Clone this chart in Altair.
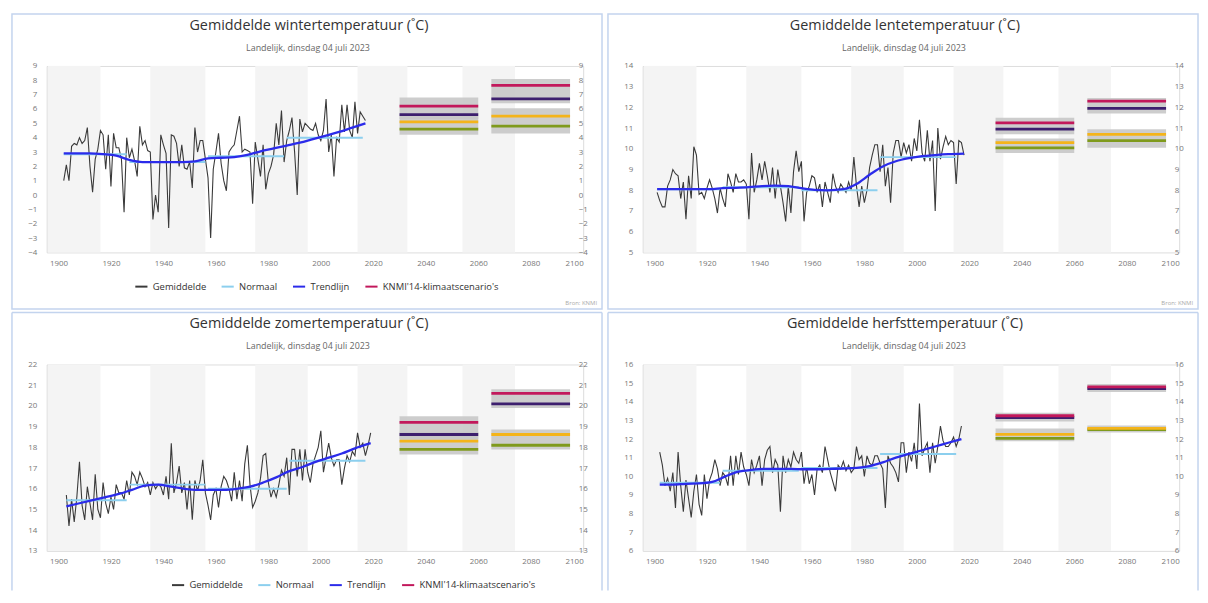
import altair as alt
import pandas as pd

W, H = 541, 188
X_DOMAIN = [1895.5, 2100]
X_TICKS = [1900, 1920, 1940, 1960, 1980, 2000, 2020, 2040, 2060, 2080, 2100]

BAND_START = [1896, 1935, 1975, 2014, 2054]
BAND_END = [1916, 1956, 1995, 2033, 2074]

SERIES = ["Gemiddelde", "Normaal", "Trendlijn", "KNMI'14-klimaatscenario's"]
SERIES_COLORS = ["#3a3a3a", "#8ccfee", "#2b2bea", "#c2185b"]

SCEN = ["GL", "GH", "WL", "WH"]
SCEN_COLORS = ["#7f9a1c", "#f4b41a", "#3d1f6e", "#c2185b"]

PERIOD_START = [2030, 2065]
PERIOD_END = [2060, 2095]

SUBTITLE = "Landelijk, dinsdag 04 juli 2023"

# ---------------- winter ----------------
WINTER_START = 1902
WINTER_OBS = [
    1.0, 2.1, 1.0, 3.4, 3.6, 3.5, 4.0, 3.6, 3.8, 4.7,
    2.0, 0.2, 2.5, 3.2, 4.5, 4.2, 1.8, 4.2, 0.6, 4.3,
    3.3, 3.3, 2.5, -1.2, 4.0, 2.6, 3.2, 2.4, 1.3, 4.8,
    3.5, 3.8, 3.1, 3.0, -1.7, 0.0, -1.2, 4.2, 3.5, 2.9,
    -2.3, 4.2, 4.1, 3.6, 2.0, 3.5, 1.9, 1.8, 2.3, 0.5,
    4.7, 3.0, 3.8, 3.8, 2.5, 1.2, -3.0, 1.8, 3.0, 4.3,
    2.2, 1.0, 0.3, 3.0, 3.3, 3.5, 4.5, 5.5, 3.0, 3.2,
    3.1, 3.0, -0.6, 3.7, 2.5, 1.3, 3.5, 0.4, 1.5, 2.0,
    2.8, 5.0, 3.5, 5.9, 2.3, 3.8, 4.5, 5.4, 3.0, 0.0,
    5.3, 4.4, 5.0, 4.8, 4.6, 4.5, 5.0, 4.2, 3.8, 4.5,
    6.7, 3.0, 4.2, 1.3, 4.0, 3.7, 6.3, 4.4, 6.3, 4.5,
    4.0, 6.5, 4.3, 5.8, 5.5, 5.2,
]
WINTER_TREND_YEARS = [1902, 1907, 1912, 1917, 1922, 1927, 1932, 1937, 1942, 1947, 1952, 1957,
                      1962, 1967, 1972, 1977, 1982, 1987, 1992, 1997, 2002, 2007, 2012, 2017]
WINTER_TREND = [2.9, 2.9, 2.9, 2.85, 2.75, 2.45, 2.3, 2.3, 2.3, 2.3, 2.35, 2.55,
                2.6, 2.65, 2.8, 3.05, 3.25, 3.45, 3.65, 3.9, 4.15, 4.4, 4.7, 5.0]
WINTER_NORM_START = [1902, 1927, 1957, 1987]
WINTER_NORM_END = [1926, 1956, 1986, 2016]
WINTER_NORM = [2.85, 2.3, 2.7, 4.0]
WINTER_G_LO, WINTER_G_HI = [4.2, 4.3], [5.5, 6.05]
WINTER_W_LO, WINTER_W_HI = [5.3, 6.4], [6.8, 8.1]
WINTER_GL, WINTER_GH = [4.6, 4.8], [5.1, 5.5]
WINTER_WL, WINTER_WH = [5.6, 6.7], [6.2, 7.65]

# ---------------- spring ----------------
SPRING_START = 1901
SPRING_OBS = [
    7.9, 7.5, 7.2, 7.2, 8.2, 8.5, 9.0, 8.8, 8.7, 7.6,
    8.4, 6.6, 8.7, 7.6, 10.1, 9.7, 7.8, 7.9, 7.6, 8.1,
    8.5, 8.1, 7.6, 6.9, 8.1, 7.6, 7.2, 8.8, 8.4, 7.9,
    8.8, 8.4, 8.4, 8.5, 8.3, 6.6, 9.8, 7.9, 8.5, 9.3,
    8.5, 9.4, 8.7, 7.9, 9.1, 7.6, 9.0, 8.2, 7.4, 6.5,
    8.2, 6.9, 8.9, 9.9, 8.9, 9.4, 6.5, 7.9, 8.2, 8.7,
    8.6, 7.9, 8.3, 7.2, 8.4, 7.9, 7.4, 8.8, 8.2, 7.9,
    8.3, 8.1, 7.9, 8.4, 8.0, 9.6, 8.2, 7.2, 8.2, 7.4,
    8.0, 9.1, 9.7, 10.2, 10.2, 8.9, 10.2, 8.2, 9.1, 7.4,
    9.8, 10.4, 10.4, 9.6, 10.3, 9.8, 10.2, 9.4, 10.5, 9.9,
    11.4, 9.8, 9.4, 10.9, 9.4, 10.4, 7.0, 11.0, 9.5, 10.1,
    10.6, 10.2, 10.4, 10.3, 8.3, 10.4, 10.3, 9.7,
]
SPRING_TREND_YEARS = [1901, 1906, 1911, 1916, 1921, 1926, 1931, 1936, 1941, 1946, 1951, 1956,
                      1961, 1966, 1972, 1977, 1982, 1987, 1992, 1997, 2002, 2007, 2012, 2018]
SPRING_TREND = [8.05, 8.05, 8.05, 8.05, 8.05, 8.1, 8.12, 8.15, 8.2, 8.22, 8.2, 8.1,
                8.02, 8.0, 8.05, 8.3, 8.75, 9.15, 9.4, 9.55, 9.65, 9.7, 9.74, 9.77]
SPRING_NORM_START = [1901, 1926, 1956, 1986]
SPRING_NORM_END = [1925, 1955, 1985, 2015]
SPRING_NORM = [8.05, 8.15, 8.0, 9.6]
SPRING_G_LO, SPRING_G_HI = [9.8, 10.05], [10.5, 10.95]
SPRING_W_LO, SPRING_W_HI = [10.7, 11.7], [11.5, 12.45]
SPRING_GL, SPRING_GH = [10.05, 10.4], [10.3, 10.7]
SPRING_WL, SPRING_WH = [10.95, 11.95], [11.25, 12.3]

# ---------------- summer ----------------
SUMMER_START = 1903
SUMMER_OBS = [
    15.7, 14.2, 15.5, 14.4, 15.6, 17.3, 15.2, 14.5, 16.1, 15.3,
    14.5, 16.7, 15.0, 14.6, 16.3, 15.3, 14.8, 15.6, 15.0, 16.2,
    15.8, 15.8, 15.5, 16.4, 15.7, 16.8, 16.6, 16.2, 16.8, 16.5,
    16.1, 16.3, 15.7, 16.3, 16.0, 16.2, 16.1, 15.7, 16.6, 15.5,
    18.2, 15.8, 16.3, 17.1, 15.8, 16.3, 15.0, 16.4, 14.5, 16.4,
    15.9, 16.4, 17.4, 15.8, 15.2, 14.5, 15.7, 16.0, 15.1, 16.1,
    16.6, 16.4, 16.0, 15.4, 16.8, 15.5, 16.4, 15.4, 17.2, 18.1,
    16.2, 15.1, 15.4, 15.8, 16.5, 17.6, 17.7, 16.3, 15.6, 16.0,
    15.6, 16.2, 16.9, 16.6, 17.5, 15.7, 17.9, 17.9, 16.6, 17.9,
    16.4, 17.9, 16.8, 16.3, 17.2, 17.6, 18.0, 18.8, 16.8, 17.5,
    18.2, 17.5, 17.1, 17.4, 17.4, 16.2, 17.0, 17.6, 17.3, 17.8,
    17.6, 18.7, 18.0, 18.2, 17.6, 18.1, 18.7,
]
SUMMER_TREND_YEARS = [1903, 1908, 1913, 1918, 1923, 1928, 1933, 1938, 1943, 1948, 1953, 1958,
                      1963, 1968, 1973, 1978, 1983, 1988, 1993, 1998, 2003, 2008, 2013, 2019]
SUMMER_TREND = [15.15, 15.3, 15.45, 15.6, 15.75, 15.95, 16.15, 16.2, 16.1, 16.0, 15.95, 15.95,
                15.95, 16.0, 16.1, 16.3, 16.55, 16.85, 17.05, 17.3, 17.5, 17.7, 17.95, 18.2]
SUMMER_NORM_START = [1903, 1927, 1957, 1988]
SUMMER_NORM_END = [1926, 1956, 1987, 2017]
SUMMER_NORM = [15.45, 16.2, 16.0, 17.35]
SUMMER_G_LO, SUMMER_G_HI = [17.65, 17.9], [18.75, 18.86]
SUMMER_W_LO, SUMMER_W_HI = [18.4, 19.9], [19.5, 20.8]
SUMMER_GL, SUMMER_GH = [17.9, 18.1], [18.3, 18.62]
SUMMER_WL, SUMMER_WH = [18.62, 20.1], [19.2, 20.6]

# ---------------- autumn ----------------
AUTUMN_START = 1902
AUTUMN_OBS = [
    11.3, 10.6, 9.5, 9.9, 9.2, 10.2, 8.3, 11.3, 9.5, 8.1,
    9.8, 8.8, 7.8, 9.2, 10.1, 8.5, 7.9, 10.1, 8.8, 9.8,
    10.2, 10.9, 10.4, 9.5, 10.2, 10.0, 9.5, 11.1, 9.5, 11.1,
    10.1, 11.3, 10.5, 10.1, 9.5, 10.9, 10.2, 10.6, 11.1, 9.5,
    10.9, 11.4, 11.6, 10.2, 10.9, 10.6, 8.1, 11.1, 10.2, 10.9,
    10.5, 11.3, 10.9, 10.7, 11.3, 9.6, 10.5, 9.6, 10.1, 9.0,
    10.4, 10.6, 10.2, 11.6, 10.9, 10.2, 9.7, 9.2, 10.6, 10.4,
    10.8, 10.3, 10.6, 10.2, 10.4, 11.6, 10.9, 11.1, 10.0, 11.1,
    10.7, 10.6, 11.1, 11.1, 10.7, 10.4, 8.3, 11.1, 10.7, 10.5,
    10.2, 9.7, 11.8, 11.8, 10.2, 11.3, 10.8, 11.8, 10.4, 13.9,
    11.1, 11.5, 11.8, 10.2, 11.8, 10.7, 11.6, 12.7, 11.9, 11.6,
    11.6, 11.8, 12.1, 11.6, 12.0, 12.7,
]
AUTUMN_TREND_YEARS = [1902, 1907, 1912, 1917, 1922, 1927, 1932, 1937, 1942, 1947, 1952, 1957,
                      1962, 1967, 1972, 1977, 1982, 1987, 1992, 1997, 2002, 2007, 2012, 2017]
AUTUMN_TREND = [9.55, 9.55, 9.6, 9.62, 9.7, 10.0, 10.25, 10.35, 10.4, 10.4, 10.4, 10.38,
                10.38, 10.4, 10.42, 10.45, 10.55, 10.75, 11.0, 11.2, 11.4, 11.6, 11.8, 12.0]
AUTUMN_NORM_START = [1902, 1926, 1956, 1986]
AUTUMN_NORM_END = [1925, 1955, 1985, 2015]
AUTUMN_NORM = [9.65, 10.3, 10.45, 11.2]
AUTUMN_G_LO, AUTUMN_G_HI = [11.88, 12.35], [12.57, 12.72]
AUTUMN_W_LO, AUTUMN_W_HI = [12.94, 14.52], [13.41, 14.95]
AUTUMN_GL, AUTUMN_GH = [12.04, 12.5], [12.25, 12.57]
AUTUMN_WL, AUTUMN_WH = [13.15, 14.7], [13.25, 14.8]

BORDER = "#c3d4ee"
FONT = "Open Sans"


def panel(title, dom, start, obs, tr_years, tr_vals, n_start, n_end, n_vals,
          g_lo, g_hi, w_lo, w_hi, gl, gh, wl, wh, legend_x, bottom):
    ticks = list(range(dom[0], dom[1] + 1))
    xs = alt.Scale(domain=X_DOMAIN, nice=False, zero=False)
    xaxis = alt.Axis(values=X_TICKS, format="d", domain=False, ticks=False, grid=False,
                     labelPadding=7, labelFontSize=8, labelColor="#777", title=None,
                     labelFont=FONT)
    ys = alt.Scale(domain=dom, nice=False, zero=False)
    left_axis = alt.Axis(orient="left", values=ticks, domain=False, ticks=False, grid=False,
                         labelPadding=10, labelFontSize=8, labelColor="#777", title=None,
                         labelFont=FONT)
    right_axis = alt.Axis(orient="right", values=ticks, domain=False, ticks=False, grid=False,
                          labelPadding=-5, labelFontSize=8, labelColor="#777", title=None,
                          labelFont=FONT)

    def X(f="jaar"):
        return alt.X(f + ":Q", scale=xs, axis=xaxis)

    def Y(f, axis=None):
        return alt.Y(f + ":Q", scale=ys, axis=axis)

    cs = alt.Scale(domain=SERIES, range=SERIES_COLORS)
    leg = alt.Legend(orient="none", legendX=legend_x, legendY=H + 27, direction="horizontal",
                     title=None, symbolType="stroke", symbolStrokeWidth=2, symbolSize=150,
                     labelFontSize=9.5, labelFont=FONT, labelColor="#333", columnPadding=11,
                     padding=0, labelOffset=4)
    col = alt.Color("serie:N", scale=cs, legend=leg)

    bands = pd.DataFrame({"jaar": BAND_START, "jaar2": BAND_END,
                          "lo": [dom[0]] * len(BAND_START), "hi": [dom[1]] * len(BAND_START)})
    boxes = pd.DataFrame({
        "jaar": PERIOD_START * 2, "jaar2": PERIOD_END * 2,
        "lo": g_lo + w_lo, "hi": g_hi + w_hi,
    })
    scen_rows = []
    for name, vals in zip(SCEN, [gl, gh, wl, wh]):
        for p in range(2):
            scen_rows.append({"jaar": PERIOD_START[p], "jaar2": PERIOD_END[p],
                              "val": vals[p], "scen": name})
    scen = pd.DataFrame(scen_rows)
    obs_df = pd.DataFrame({"jaar": list(range(start, start + len(obs))), "val": obs,
                           "serie": "Gemiddelde"})
    norm_rows = []
    for i, (a, b, v) in enumerate(zip(n_start, n_end, n_vals)):
        norm_rows.append({"jaar": a, "val": v, "seg": i, "serie": "Normaal"})
        norm_rows.append({"jaar": b, "val": v, "seg": i, "serie": "Normaal"})
    norm_df = pd.DataFrame(norm_rows)
    trend_df = pd.DataFrame({"jaar": tr_years, "val": tr_vals, "serie": "Trendlijn"})
    one = pd.DataFrame({"k": [0]})

    layers = [
        alt.Chart(bands).mark_rect(color="#f4f4f4").encode(
            x=X(), x2="jaar2:Q", y=Y("lo", left_axis), y2="hi:Q"),
        alt.Chart(boxes).mark_rect(color="#c8c8c8", opacity=0.9).encode(
            x=X(), x2="jaar2:Q", y=Y("lo", right_axis), y2="hi:Q"),
        alt.Chart(scen).mark_rule(strokeWidth=2.8).encode(
            x=X(), x2="jaar2:Q", y=Y("val"),
            stroke=alt.Stroke("scen:N", scale=alt.Scale(domain=SCEN, range=SCEN_COLORS),
                              legend=None)),
        alt.Chart(obs_df).mark_line(strokeWidth=1.1).encode(x=X(), y=Y("val"), color=col),
        alt.Chart(norm_df).mark_line(strokeWidth=2).encode(
            x=X(), y=Y("val"), color=col, detail="seg:N"),
        alt.Chart(trend_df).mark_line(strokeWidth=2.3, interpolate="monotone").encode(
            x=X(), y=Y("val"), color=col),
        alt.Chart(one).mark_text(text=title, fontSize=14.5, color="#333", font=FONT,
                                 align="center", baseline="middle").encode(
            x=alt.value(W / 2 - 6), y=alt.value(-40.5)),
        alt.Chart(one).mark_text(text=SUBTITLE, fontSize=9, color="#666", font=FONT,
                                 align="center", baseline="middle").encode(
            x=alt.value(W / 2 - 7), y=alt.value(-18.5)),
    ]
    if not bottom:
        layers.append(alt.Chart(one).mark_rect(filled=False, stroke=BORDER, strokeWidth=1.5).encode(
            x=alt.value(-35), x2=alt.value(W + 19), y=alt.value(-52.5), y2=alt.value(H + 57)))
        layers.append(alt.Chart(one).mark_text(text="Bron: KNMI", fontSize=6, color="#aaa",
                                               align="right", font=FONT).encode(
            x=alt.value(W + 14), y=alt.value(H + 51)))
    else:
        layers.append(alt.Chart(one).mark_rule(stroke=BORDER, strokeWidth=1.5).encode(
            x=alt.value(-35), x2=alt.value(W + 19), y=alt.value(-52.5)))
        layers.append(alt.Chart(one).mark_rule(stroke=BORDER, strokeWidth=1.5).encode(
            x=alt.value(-35), y=alt.value(-52.5), y2=alt.value(H + 40)))
        layers.append(alt.Chart(one).mark_rule(stroke=BORDER, strokeWidth=1.5).encode(
            x=alt.value(W + 19), y=alt.value(-52.5), y2=alt.value(H + 40)))

    return alt.layer(*layers).resolve_scale(y="independent").properties(width=W, height=H)


p1 = panel("Gemiddelde wintertemperatuur (˚C)", [-4, 9], WINTER_START, WINTER_OBS,
           WINTER_TREND_YEARS, WINTER_TREND, WINTER_NORM_START, WINTER_NORM_END, WINTER_NORM,
           WINTER_G_LO, WINTER_G_HI, WINTER_W_LO, WINTER_W_HI,
           WINTER_GL, WINTER_GH, WINTER_WL, WINTER_WH, 88, False)
p2 = panel("Gemiddelde lentetemperatuur (˚C)", [5, 14], SPRING_START, SPRING_OBS,
           SPRING_TREND_YEARS, SPRING_TREND, SPRING_NORM_START, SPRING_NORM_END, SPRING_NORM,
           SPRING_G_LO, SPRING_G_HI, SPRING_W_LO, SPRING_W_HI,
           SPRING_GL, SPRING_GH, SPRING_WL, SPRING_WH, 88, False)
p3 = panel("Gemiddelde zomertemperatuur (˚C)", [13, 22], SUMMER_START, SUMMER_OBS,
           SUMMER_TREND_YEARS, SUMMER_TREND, SUMMER_NORM_START, SUMMER_NORM_END, SUMMER_NORM,
           SUMMER_G_LO, SUMMER_G_HI, SUMMER_W_LO, SUMMER_W_HI,
           SUMMER_GL, SUMMER_GH, SUMMER_WL, SUMMER_WH, 125, True)
p4 = panel("Gemiddelde herfsttemperatuur (˚C)", [6, 16], AUTUMN_START, AUTUMN_OBS,
           AUTUMN_TREND_YEARS, AUTUMN_TREND, AUTUMN_NORM_START, AUTUMN_NORM_END, AUTUMN_NORM,
           AUTUMN_G_LO, AUTUMN_G_HI, AUTUMN_W_LO, AUTUMN_W_HI,
           AUTUMN_GL, AUTUMN_GH, AUTUMN_WL, AUTUMN_WH, 88, True)

top = alt.hconcat(p1, p2, spacing=2)
bot = alt.hconcat(p3, p4, spacing=2)
chart = alt.vconcat(top, bot, spacing=0).resolve_scale(
    color="independent", x="independent", y="independent", stroke="independent"
).resolve_legend(color="independent").properties(
    padding={"left": 2, "top": 2, "right": 0, "bottom": 0}
).configure_view(stroke=None).configure(font=FONT, background="white")

chart.save("out.html", embed_options={"renderer": "svg", "actions": False})
